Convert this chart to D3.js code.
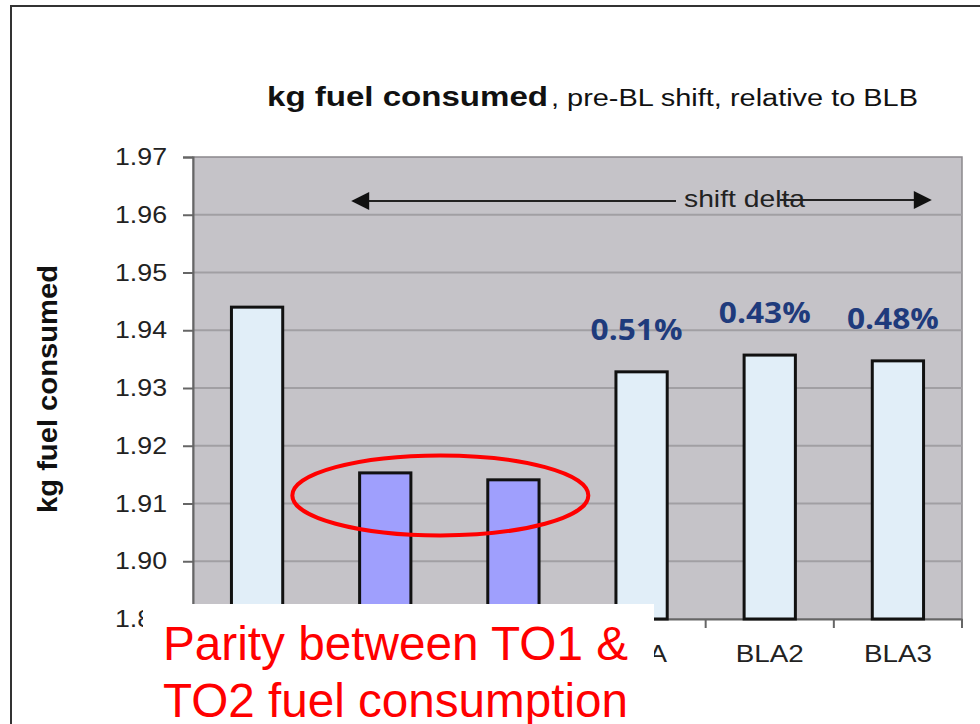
<!DOCTYPE html>
<html>
<head>
<meta charset="utf-8">
<script src="https://cdn.jsdelivr.net/npm/d3@7"></script>
<style>
  html, body { margin: 0; padding: 0; background: #fff; }
  svg { display: block; font-family: "Liberation Sans", Arial, sans-serif; }
</style>
</head>
<body>
<script>
// chart data
var categories = ["BLB", "TO1", "TO2", "BLA", "BLA2", "BLA3"];
var fuelValues = [1.9440, 1.9153, 1.9141, 1.9328, 1.9357, 1.9347];
var deltaLabels = ["", "", "", "0.51%", "0.43%", "0.48%"];
var yTicks = [1.89, 1.90, 1.91, 1.92, 1.93, 1.94, 1.95, 1.96, 1.97];
var highlighted = ["TO1", "TO2"];

var width = 980, height = 724;
var margin = {top: 157, right: 18, bottom: 105, left: 193};

var svg = d3.select("body").append("svg")
    .attr("width", width)
    .attr("height", height);

// frame of the slide
svg.append("path")
    .attr("d", "M11,724 L11,6 L980,6")
    .attr("fill", "none")
    .attr("stroke", "#333")
    .attr("stroke-width", 2);

var x = d3.scaleBand()
    .domain(categories)
    .range([margin.left, width - margin.right])
    .paddingInner(0.6)
    .paddingOuter(0.3);

var y = d3.scaleLinear()
    .domain([1.89, 1.97])
    .range([height - margin.bottom, margin.top]);

// plot area
svg.append("rect")
    .attr("x", margin.left)
    .attr("y", margin.top)
    .attr("width", width - margin.right - margin.left)
    .attr("height", height - margin.bottom - margin.top)
    .attr("fill", "#c5c3c8")
    .attr("stroke", "#8a888c")
    .attr("stroke-width", 1.5);

svg.append("g")
    .selectAll("line")
    .data(yTicks.slice(1, -1))
    .enter().append("line")
    .attr("x1", margin.left)
    .attr("x2", width - margin.right)
    .attr("y1", function(d) { return y(d); })
    .attr("y2", function(d) { return y(d); })
    .attr("stroke", "#a19fa3")
    .attr("stroke-width", 2);

// y axis
var yAxis = svg.append("g")
    .attr("transform", "translate(" + margin.left + ",0)")
    .call(d3.axisLeft(y).tickValues(yTicks).tickFormat(d3.format(".2f")).tickSize(10).tickPadding(16));
yAxis.select(".domain").attr("stroke", "#666").attr("stroke-width", 2);
yAxis.selectAll(".tick line").attr("stroke", "#666").attr("stroke-width", 2);
yAxis.selectAll("text")
    .attr("font-size", 24)
    .attr("fill", "#222")
    .attr("textLength", 52)
    .attr("lengthAdjust", "spacingAndGlyphs")
    .style("font-family", "Liberation Sans, Arial, sans-serif");

// x axis
var xAxis = svg.append("g")
    .attr("transform", "translate(0," + (height - margin.bottom) + ")")
    .call(d3.axisBottom(x).tickSize(0).tickPadding(27));
xAxis.select(".domain").attr("stroke", "#666").attr("stroke-width", 2);
xAxis.selectAll("text")
    .attr("font-size", 23)
    .attr("fill", "#222")
    .attr("textLength", function(d) { return d.length * 17; })
    .attr("lengthAdjust", "spacingAndGlyphs")
    .style("font-family", "Liberation Sans, Arial, sans-serif");

var bounds = d3.range(categories.length + 1).map(function(i) {
  return margin.left + i * (width - margin.right - margin.left) / categories.length;
});
svg.append("g")
    .selectAll("line")
    .data(bounds)
    .enter().append("line")
    .attr("x1", function(d) { return d; })
    .attr("x2", function(d) { return d; })
    .attr("y1", height - margin.bottom)
    .attr("y2", height - margin.bottom + 9)
    .attr("stroke", "#666")
    .attr("stroke-width", 2);

// bars
svg.append("g")
    .selectAll("rect")
    .data(categories)
    .enter().append("rect")
    .attr("x", function(d) { return x(d); })
    .attr("y", function(d, i) { return y(fuelValues[i]); })
    .attr("width", x.bandwidth())
    .attr("height", function(d, i) { return y(1.89) - y(fuelValues[i]); })
    .attr("fill", function(d) { return highlighted.indexOf(d) >= 0 ? "#9f9ffd" : "#e1eef8"; })
    .attr("stroke", "#111")
    .attr("stroke-width", 3);

// delta labels
svg.append("g")
    .selectAll("text")
    .data(categories.filter(function(d, i) { return deltaLabels[i]; }))
    .enter().append("text")
    .attr("x", function(d) { return x(d) + x.bandwidth() / 2 - 5; })
    .attr("y", function(d) { return y(fuelValues[categories.indexOf(d)]) - 32; })
    .attr("text-anchor", "middle")
    .attr("font-size", 28)
    .attr("font-weight", "bold")
    .attr("fill", "#1f3b7c")
    .attr("textLength", 92)
    .attr("lengthAdjust", "spacingAndGlyphs")
    .style("font-family", "Open Sans, sans-serif")
    .text(function(d) { return deltaLabels[categories.indexOf(d)]; });

// shift delta arrow
svg.append("defs").append("marker")
    .attr("id", "head")
    .attr("viewBox", "0 0 10 10")
    .attr("refX", 9).attr("refY", 5)
    .attr("markerWidth", 10).attr("markerHeight", 9)
    .attr("orient", "auto-start-reverse")
    .append("path")
    .attr("d", "M0,0 L10,5 L0,10 z")
    .attr("fill", "#111");

var arrowY = 201;
svg.append("line")
    .attr("x1", 353).attr("x2", 676)
    .attr("y1", arrowY).attr("y2", arrowY)
    .attr("stroke", "#222").attr("stroke-width", 2)
    .attr("marker-start", "url(#head)");
svg.append("line")
    .attr("x1", 780).attr("x2", 930)
    .attr("y1", arrowY - 1).attr("y2", arrowY - 1)
    .attr("stroke", "#222").attr("stroke-width", 2)
    .attr("marker-end", "url(#head)");
svg.append("text")
    .attr("x", 684).attr("y", arrowY + 6)
    .attr("font-size", 24)
    .attr("fill", "#222")
    .attr("textLength", 121)
    .attr("lengthAdjust", "spacingAndGlyphs")
    .text("shift delta");

// title
svg.append("text")
    .attr("x", 267).attr("y", 106)
    .attr("font-size", 27)
    .attr("font-weight", "bold")
    .attr("fill", "#111")
    .attr("textLength", 281)
    .attr("lengthAdjust", "spacingAndGlyphs")
    .text("kg fuel consumed");
svg.append("text")
    .attr("x", 551).attr("y", 106)
    .attr("font-size", 23)
    .attr("fill", "#111")
    .attr("textLength", 367)
    .attr("lengthAdjust", "spacingAndGlyphs")
    .text(", pre-BL shift, relative to BLB");

// y label
svg.append("text")
    .attr("transform", "translate(57,389) rotate(-90)")
    .attr("text-anchor", "middle")
    .attr("font-size", 27)
    .attr("font-weight", "bold")
    .attr("fill", "#111")
    .attr("textLength", 248)
    .attr("lengthAdjust", "spacingAndGlyphs")
    .text("kg fuel consumed");

// ellipse round TO1 and TO2
svg.append("ellipse")
    .attr("cx", (x("TO1") + x("TO2") + x.bandwidth()) / 2 - 9)
    .attr("cy", y(1.9114))
    .attr("rx", 148)
    .attr("ry", 40)
    .attr("fill", "none")
    .attr("stroke", "#ff0000")
    .attr("stroke-width", 4);

// callout box
svg.append("rect")
    .attr("x", 143).attr("y", 604)
    .attr("width", 511).attr("height", 120)
    .attr("fill", "#fff");

svg.append("text")
    .attr("x", 163).attr("y", 660)
    .attr("font-size", 48)
    .attr("fill", "#ff0000")
    .attr("textLength", 465)
    .attr("lengthAdjust", "spacingAndGlyphs")
    .text("Parity between TO1 &");
svg.append("text")
    .attr("x", 163).attr("y", 717)
    .attr("font-size", 48)
    .attr("fill", "#ff0000")
    .attr("textLength", 465)
    .attr("lengthAdjust", "spacingAndGlyphs")
    .text("TO2 fuel consumption");
</script>
</body>
</html>
